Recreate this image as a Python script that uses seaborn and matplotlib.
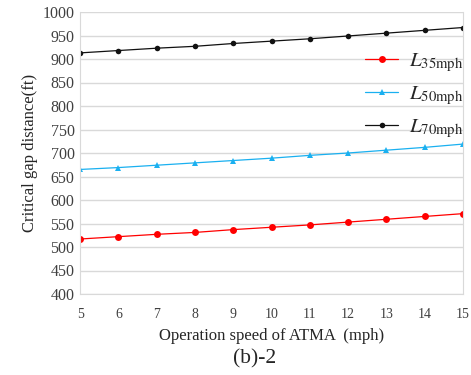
import pandas as pd
import matplotlib
matplotlib.use("Agg")
import matplotlib.pyplot as plt
import seaborn as sns

# 数据：ATMA 运行速度 与 临界间隙距离
speed = [5, 6, 7, 8, 9, 10, 11, 12, 13, 14, 15]
l35 = [517, 522, 527, 531, 537, 542, 547, 553, 559, 565, 571]
l50 = [665, 669, 674, 679, 684, 689, 695, 700, 706, 712, 719]
l70 = [913, 918, 923, 927, 933, 938, 943, 949, 955, 961, 967]

sns.set_style("white")
plt.rcParams['font.family'] = ['Liberation Serif', 'DejaVu Serif']
plt.rcParams['mathtext.fontset'] = 'stix'

data = pd.DataFrame({'speed': speed, 'L35': l35, 'L50': l50, 'L70': l70})

fig = plt.figure(figsize=(4.71, 3.75), dpi=100)
ax = fig.add_axes([0.170, 0.216, 0.813, 0.752])

sns.lineplot(data=data, x='speed', y='L35', ax=ax, color='#ff0000', marker='o',
             markersize=5, markeredgewidth=0, linewidth=0.9, label=r'$L_{\mathrm{35mph}}$')
sns.lineplot(data=data, x='speed', y='L50', ax=ax, color='#1ab0f0', marker='^',
             markersize=5, markeredgewidth=0, linewidth=0.9, label=r'$L_{\mathrm{50mph}}$')
sns.lineplot(data=data, x='speed', y='L70', ax=ax, color='#111111', marker='o',
             markersize=4, markeredgewidth=0, linewidth=0.9, label=r'$L_{\mathrm{70mph}}$')

ax.set_xlim(5, 15)
ax.set_ylim(400, 1000)
ax.set_xticks(speed)
ax.set_yticks(range(400, 1001, 50))
ax.yaxis.grid(True, color='#d9d9d9', linewidth=1)
ax.set_axisbelow(True)
for s in ax.spines.values():
    s.set_color('#d9d9d9')
ax.spines['top'].set_visible(False)
ax.tick_params(axis='x', direction='out', length=4, color='#d9d9d9', labelsize=10, pad=6)
ax.tick_params(axis='y', length=0, labelsize=11.5, pad=4)
for t in ax.get_xticklabels() + ax.get_yticklabels():
    t.set_color('#404040')

ax.set_xlabel('Operation speed of ATMA  (mph)', fontsize=12, labelpad=5, color='#262626')
ax.set_ylabel('Critical gap distance(ft)', fontsize=12, labelpad=3, color='#262626')
fig.text(0.54, 0.03, '(b)-2', fontsize=15.5, ha='center', color='#262626')

ax.legend(loc='upper left', bbox_to_anchor=(0.695, 0.925), frameon=False, fontsize=15,
          labelspacing=0.5, handlelength=1.6, handletextpad=0.5)

fig.savefig('out.png', dpi=100)
